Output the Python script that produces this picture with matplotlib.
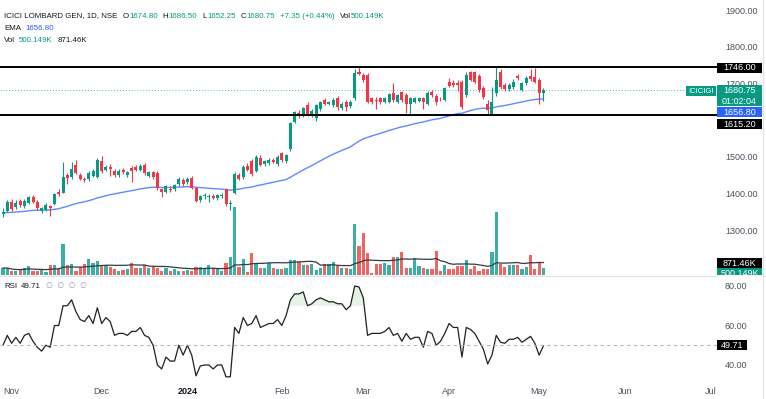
import matplotlib.pyplot as plt
from matplotlib.patches import Rectangle
from matplotlib.lines import Line2D
import numpy as np
import pandas as pd

plt.rcParams['font.family'] = ['Liberation Sans', 'DejaVu Sans']

# daily candles, ICICI Lombard, end Oct 2023 -> 3 May 2024
opens = [1345, 1353, 1377, 1362, 1380, 1365, 1375, 1390, 1378, 1352,
         1355, 1365, 1372, 1404, 1402, 1450, 1445, 1478, 1450, 1440,
         1440, 1448, 1445, 1488, 1465, 1472, 1462, 1450, 1465, 1450,
         1470, 1472, 1465, 1478, 1448, 1458, 1455, 1412, 1405, 1413,
         1412, 1425, 1438, 1430, 1443, 1415, 1382, 1392, 1390, 1394,
         1387, 1393, 1412, 1372, 1400, 1450, 1445, 1475, 1488, 1462,
         1498, 1480, 1482, 1492, 1480, 1510, 1488, 1520, 1595, 1620,
         1612, 1640, 1612, 1605, 1630, 1655, 1645, 1640, 1660, 1632,
         1650, 1638, 1660, 1731, 1723, 1723, 1660, 1655, 1660, 1650,
         1650, 1675, 1650, 1676, 1668, 1645, 1650, 1652, 1660, 1645,
         1677, 1665, 1658, 1655, 1705, 1700, 1702, 1704, 1668, 1730,
         1730, 1720, 1687, 1645, 1614, 1675, 1732, 1695, 1685, 1690,
         1720, 1682, 1700, 1720, 1718, 1710, 1674.80]
highs = [1360, 1383, 1386, 1381, 1385, 1384, 1393, 1395, 1382, 1364,
         1374, 1370, 1402, 1412, 1485, 1455, 1485, 1490, 1456, 1446,
         1460, 1468, 1498, 1502, 1478, 1480, 1466, 1466, 1470, 1462,
         1474, 1478, 1480, 1484, 1462, 1462, 1460, 1416, 1424, 1420,
         1426, 1444, 1442, 1444, 1448, 1418, 1396, 1400, 1398, 1398,
         1398, 1402, 1416, 1382, 1458, 1456, 1478, 1482, 1494, 1504,
         1504, 1492, 1496, 1498, 1504, 1514, 1508, 1596, 1626, 1628,
         1636, 1648, 1630, 1644, 1652, 1660, 1652, 1660, 1666, 1650,
         1656, 1654, 1738, 1746, 1728, 1728, 1664, 1662, 1664, 1664,
         1674, 1700, 1672, 1680, 1674, 1664, 1664, 1664, 1664, 1678,
         1682, 1670, 1662, 1690, 1716, 1708, 1708, 1710, 1730, 1735,
         1734, 1726, 1692, 1655, 1690, 1746, 1738, 1700, 1700, 1712,
         1726, 1704, 1720, 1740, 1742, 1716, 1686.50]
lows = [1336, 1350, 1352, 1358, 1362, 1360, 1372, 1374, 1356, 1348,
        1352, 1338, 1368, 1392, 1400, 1425, 1440, 1452, 1436, 1430,
        1435, 1444, 1442, 1455, 1460, 1448, 1446, 1446, 1452, 1444,
        1430, 1460, 1460, 1450, 1444, 1440, 1410, 1390, 1400, 1405,
        1408, 1420, 1420, 1426, 1412, 1376, 1378, 1386, 1378, 1384,
        1383, 1388, 1365, 1355, 1398, 1436, 1440, 1460, 1448, 1458,
        1474, 1476, 1478, 1482, 1476, 1486, 1484, 1516, 1592, 1606,
        1608, 1612, 1608, 1598, 1626, 1640, 1640, 1636, 1628, 1628,
        1626, 1634, 1656, 1722, 1704, 1646, 1645, 1630, 1645, 1646,
        1646, 1650, 1646, 1650, 1620, 1615, 1646, 1648, 1630, 1640,
        1664, 1640, 1652, 1652, 1690, 1690, 1680, 1630, 1664, 1706,
        1700, 1676, 1658, 1614, 1614, 1665, 1686, 1678, 1680, 1686,
        1710, 1678, 1696, 1706, 1700, 1645, 1652.25]
closes = [1350, 1377, 1357, 1375, 1368, 1380, 1390, 1378, 1360, 1360,
          1370, 1360, 1398, 1398, 1445, 1442, 1468, 1456, 1440, 1436,
          1455, 1462, 1490, 1460, 1472, 1466, 1450, 1462, 1458, 1458,
          1460, 1465, 1475, 1455, 1458, 1445, 1415, 1405, 1420, 1410,
          1422, 1440, 1425, 1440, 1415, 1380, 1392, 1396, 1392, 1388,
          1395, 1396, 1372, 1375, 1452, 1440, 1472, 1465, 1452, 1500,
          1478, 1488, 1492, 1486, 1500, 1490, 1505, 1592, 1622, 1610,
          1632, 1615, 1625, 1640, 1648, 1645, 1648, 1655, 1635, 1645,
          1635, 1650, 1728, 1725, 1709, 1650, 1650, 1652, 1650, 1660,
          1670, 1655, 1668, 1655, 1645, 1660, 1660, 1660, 1648, 1674,
          1668, 1650, 1657, 1687, 1692, 1696, 1695, 1636, 1723, 1710,
          1705, 1682, 1663, 1627, 1649, 1710, 1690, 1685, 1695, 1705,
          1715, 1700, 1715, 1712, 1705, 1673.40, 1680.75]
# volume in thousands
volumes = [508, 508, 290, 290, 363, 508, 653, 290, 290, 363,
           218, 726, 726, 508, 2251, 726, 799, 290, 581, 799,
           1162, 871, 1016, 653, 726, 581, 436, 290, 363, 436,
           871, 508, 508, 726, 508, 581, 508, 290, 508, 290,
           436, 290, 290, 363, 290, 581, 581, 508, 726, 508,
           436, 290, 871, 1307, 4937, 581, 1162, 218, 1597, 799,
           508, 508, 871, 508, 436, 436, 508, 1089, 1089, 944,
           726, 726, 799, 363, 508, 799, 799, 944, 653, 508,
           508, 436, 3703, 2105, 3049, 1597, 145, 799, 799, 871,
           726, 1307, 1307, 1670, 508, 508, 1234, 653, 508, 436,
           436, 1742, 290, 726, 436, 436, 653, 653, 1089, 436,
           653, 290, 436, 436, 1670, 4574, 799, 581, 726, 726,
           726, 436, 581, 1452, 436, 871, 500.149]
rsi = [50, 55, 51, 54, 51, 55, 56, 52, 49, 47,
       50, 49, 60, 60, 70, 70, 73, 67, 63, 62,
       65, 61, 69, 61, 64, 62, 55, 56, 56, 55,
       57, 57, 59, 55, 54, 50, 40, 38, 44, 42,
       42, 50, 45, 50, 45, 34.5, 39.5, 40, 40, 38,
       40, 40, 34, 34, 59, 56, 64, 60, 61, 65,
       59, 60, 61, 61, 63, 60, 65, 73, 76, 76,
       77, 70, 71, 73, 74, 73, 72, 72, 71, 71,
       68, 70, 80, 79.5, 74, 55, 56, 56, 56, 57,
       59, 55, 56, 52, 56, 53, 54, 54, 49, 57,
       56, 50, 52, 56, 61, 59, 59, 44, 59, 58,
       56, 52, 48, 40.5, 45, 55, 51.5, 51, 53, 53,
       54, 51.5, 53, 54.5, 51, 45, 49.71]

ema_start = 1347
resistance = 1746.00
support = 1615.20
month_pos = [2, 23, 43, 65, 84, 104, 125, 145, 165]
month_names = ["Nov", "Dec", "2024", "Feb", "Mar", "Apr", "May", "Jun", "Jul"]

GREEN = '#089981'
RED = '#f23645'
TXT = '#131722'
AX = '#4c525e'

W, H = 766, 399
fig = plt.figure(figsize=(W / 100, H / 100), dpi=100)


def rect(x0, y0, x1, y1):
    return [x0 / W, 1 - y1 / H, (x1 - x0) / W, (y1 - y0) / H]


def fpos(x, y):
    return x / W, 1 - y / H


ax = fig.add_axes(rect(0, 0, 718, 275))
axv = ax.twinx()
axr = fig.add_axes(rect(0, 276, 718, 380), sharex=ax)
ax.set_zorder(axv.get_zorder() + 1)
ax.patch.set_visible(False)

x = np.arange(len(closes))
o = np.array(opens)
c = np.array(closes)
up = c >= o
cols = np.where(up, GREEN, RED)

# candles
ax.vlines(x, lows, highs, color=cols, lw=0.8, zorder=3)
body = np.maximum(np.abs(c - o), 1.5)
ax.bar(x, body, bottom=np.minimum(o, c), width=0.7, color=cols, zorder=4)

# EMA 50
ema = []
e = ema_start
for i, v in enumerate(closes):
    if i > 0:
        e = e + (v - e) * 2 / 51
    ema.append(e)
ax.plot(x, ema, color='#2962ff', lw=1, alpha=0.75, zorder=2)

ax.axhline(resistance, color='black', lw=1.4, zorder=5)
ax.axhline(support, color='black', lw=1.4, zorder=5)
ax.axhline(closes[-1], color=GREEN, lw=0.7, ls=(0, (1, 2)), alpha=0.7, zorder=1)

ax.set_ylim(1177.9, 1927.25)
ax.set_xlim(-0.7, 166.7)
ax.yaxis.tick_right()
ax.set_yticks([1300, 1400, 1500, 1700, 1800, 1900])
ax.yaxis.set_major_formatter(plt.FormatStrFormatter('%.2f'))
ax.tick_params(axis='y', length=0, pad=5, labelsize=6.5, labelcolor=AX)
ax.tick_params(axis='x', length=0, labelbottom=False)

# volume overlay
vcols = np.where(up, '#26a69a', '#ef5350')
axv.bar(x, volumes, width=0.75, color=vcols, alpha=0.9)
vma = pd.Series(volumes).rolling(20, min_periods=1).mean()
axv.plot(x, vma, color='#363a45', lw=0.9)
axv.set_ylim(0, 19965)
axv.set_yticks([])

# RSI pane
r = np.array(rsi)
axr.plot(x, r, color='#202020', lw=0.9)
axr.fill_between(x, 70, r, where=r > 70, interpolate=True, color='#4caf50', alpha=0.15, lw=0)
axr.axhline(50, color='#b2b5be', lw=0.8, ls=(0, (3, 3)))
axr.set_ylim(32.4, 85.06)
axr.yaxis.tick_right()
axr.set_yticks([40, 60, 80])
axr.yaxis.set_major_formatter(plt.FormatStrFormatter('%.2f'))
axr.tick_params(axis='y', length=0, pad=5, labelsize=6.5, labelcolor=AX)
axr.set_xticks(month_pos)
axr.set_xticklabels(month_names)
axr.tick_params(axis='x', length=0, pad=5, labelsize=6.5, labelcolor=AX)
for lab in axr.get_xticklabels():
    if lab.get_text() == "2024":
        lab.set_fontweight('bold')
        lab.set_color(TXT)

for a in (ax, axv, axr):
    for s in a.spines.values():
        s.set_visible(False)

# pane borders
fig.add_artist(Line2D([0, 1], [1 - 275.5 / H] * 2, color='#e0e3eb', lw=0.8))
fig.add_artist(Line2D([762.5 / W] * 2, [0, 1], color='#e0e3eb', lw=0.8))

# legends
renderer = fig.canvas.get_renderer()


def legend_row(y, parts, x0=4, size=5.7):
    xp = x0
    for s, col, gap in parts:
        t = fig.text(*fpos(xp, y), s, color=col, fontsize=size, va='center', ha='left')
        xp += t.get_window_extent(renderer).width + gap


legend_row(16, [("ICICI LOMBARD GEN, 1D, NSE", TXT, 5),
                ("O", TXT, 0.5), ("1674.80", GREEN, 5),
                ("H", TXT, 0.5), ("1686.50", GREEN, 5),
                ("L", TXT, 0.5), ("1652.25", GREEN, 5),
                ("C", TXT, 0.5), ("1680.75", GREEN, 5),
                ("+7.35 (+0.44%)", GREEN, 5),
                ("Vol", TXT, 0), ("500.149K", GREEN, 0)])
legend_row(28, [("EMA", TXT, 4), ("1656.80", '#2962ff', 0)])
legend_row(40, [("Vol", TXT, 4), ("500.149K", GREEN, 5), ("871.46K", TXT, 0)])
legend_row(286, [("RSI", TXT, 4), ("49.71", TXT, 5), ("\u2205  \u2205  \u2205  \u2205", '#9598a1', 0)])


# price tags on the right, fixed width boxes like the chart scale
def tag(x0, x1, y0, y1, s, fc, size=6.5):
    fig.add_artist(Rectangle(fpos(x0, y1), (x1 - x0) / W, (y1 - y0) / H,
                             transform=fig.transFigure, fc=fc, ec='none', zorder=10))
    fig.text(*fpos((x0 + x1) / 2, (y0 + y1) / 2 + 0.5), s, color='white', fontsize=size,
             va='center', ha='center', linespacing=1.3, zorder=11)


tag(717, 762, 62.5, 72.5, "1746.00", 'black')
tag(686, 716, 86, 95.5, "ICICIGI", GREEN, size=5.6)
tag(717, 762, 85, 105.5, "1680.75\n01:02:04", GREEN)
tag(717, 762, 107, 117, "1656.80", '#2962ff')
tag(717, 762, 119, 129, "1615.20", 'black')
tag(717, 762, 268, 278, "500.149K", GREEN)
tag(717, 762, 258, 268, "871.46K", 'black')
fig.add_artist(Rectangle(fpos(716, 282), 47 / W, 7.5 / H, transform=fig.transFigure,
                         fc='white', ec='none', zorder=12))
tag(717, 747, 340, 350, "49.71", 'black')

fig.savefig("out.png", dpi=100)
